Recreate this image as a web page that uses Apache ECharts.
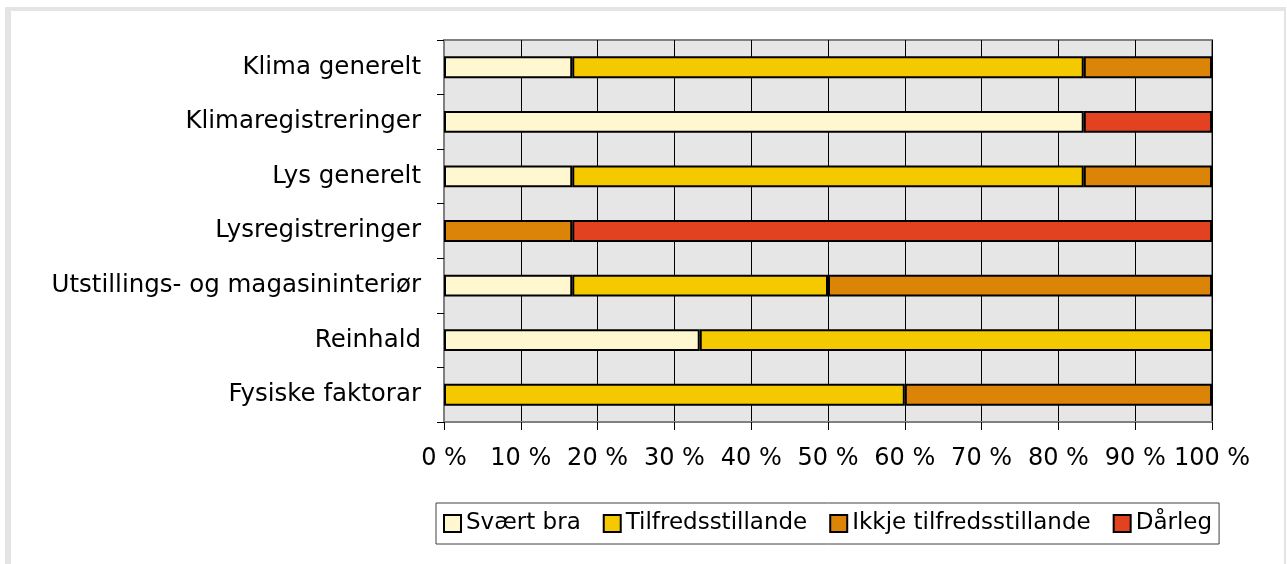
<!DOCTYPE html>
<html>
<head>
<meta charset="utf-8">
<script src="https://cdn.jsdelivr.net/npm/echarts@6/dist/echarts.min.js"></script>
<style>
html, body { margin: 0; padding: 0; background: #fff; }
#chart { width: 1287px; height: 564px; }
</style>
</head>
<body>
<div id="chart"></div>
<script>
// categories, top to bottom
const categories = ['Klima generelt', 'Klimaregistreringer', 'Lys generelt', 'Lysregistreringer',
    'Utstillings- og magasininteriør', 'Reinhald', 'Fysiske faktorar'];
const svaertBra = [16.7, 83.3, 16.7, '-', 16.7, 33.3, '-'];
const tilfreds = [66.6, '-', 66.6, '-', 33.3, 66.7, 60];
const ikkjeTilfreds = [16.7, '-', 16.7, 16.7, 50, '-', 40];
const daarleg = ['-', 16.7, '-', 83.3, '-', '-', '-'];
const xTicks = [0, 10, 20, 30, 40, 50, 60, 70, 80, 90, 100];

// text in the original is wide, DejaVu gets closer than Arial
const font = 'DejaVu Sans, Liberation Sans, sans-serif';

function bar(name, data, color) {
    return {
        name: name,
        type: 'bar',
        stack: 'total',
        barWidth: '40%',
        data: data,
        itemStyle: {color: color, borderColor: '#000', borderWidth: 2},
        emphasis: {disabled: true}
    };
}

const chart = echarts.init(document.getElementById('chart'), null, {renderer: 'canvas'});
chart.setOption({
    animation: false,
    textStyle: {fontFamily: font},
    graphic: [
        {type: 'rect', z: -10, shape: {x: 5, y: 7, width: 1281, height: 600}, style: {fill: '#e4e4e4'}},
        {type: 'rect', z: -9, shape: {x: 11, y: 11, width: 1273, height: 600}, style: {fill: '#fff'}}
    ],
    grid: {
        left: 444, right: 75, top: 40, bottom: 142,
        show: true, backgroundColor: '#e6e6e6', borderColor: '#808080', borderWidth: 2
    },
    legend: {
        left: 436, top: 503,
        padding: [9, 7, 9, 7],
        borderColor: '#404040', borderWidth: 1,
        itemWidth: 17, itemHeight: 17, itemGap: 22,
        icon: 'rect',
        itemStyle: {borderColor: '#000', borderWidth: 2},
        textStyle: {fontSize: 23, color: '#000', fontFamily: font},
        data: ['Svært bra', 'Tilfredsstillande', 'Ikkje tilfredsstillande', 'Dårleg']
    },
    xAxis: {
        type: 'value',
        min: xTicks[0], max: xTicks[xTicks.length - 1], interval: 10,
        axisLine: {show: true, lineStyle: {color: '#808080', width: 2}},
        axisTick: {show: true, length: 8, lineStyle: {color: '#000'}},
        splitLine: {show: true, lineStyle: {color: '#000', width: 1}},
        axisLabel: {formatter: '{value} %', fontSize: 24, color: '#000', margin: 25}
    },
    yAxis: {
        type: 'category',
        inverse: true,
        data: categories,
        axisLine: {show: true, lineStyle: {color: '#808080', width: 2}},
        axisTick: {show: true, length: 7, lineStyle: {color: '#000'}},
        axisLabel: {fontSize: 24.5, color: '#000', margin: 23}
    },
    series: [
        bar('Svært bra', svaertBra, '#fff7cf'),
        bar('Tilfredsstillande', tilfreds, '#f4c900'),
        bar('Ikkje tilfredsstillande', ikkjeTilfreds, '#dc8408'),
        bar('Dårleg', daarleg, '#e24220')
    ]
});
window.addEventListener('resize', function () {
    chart.resize();
});
</script>
</body>
</html>
